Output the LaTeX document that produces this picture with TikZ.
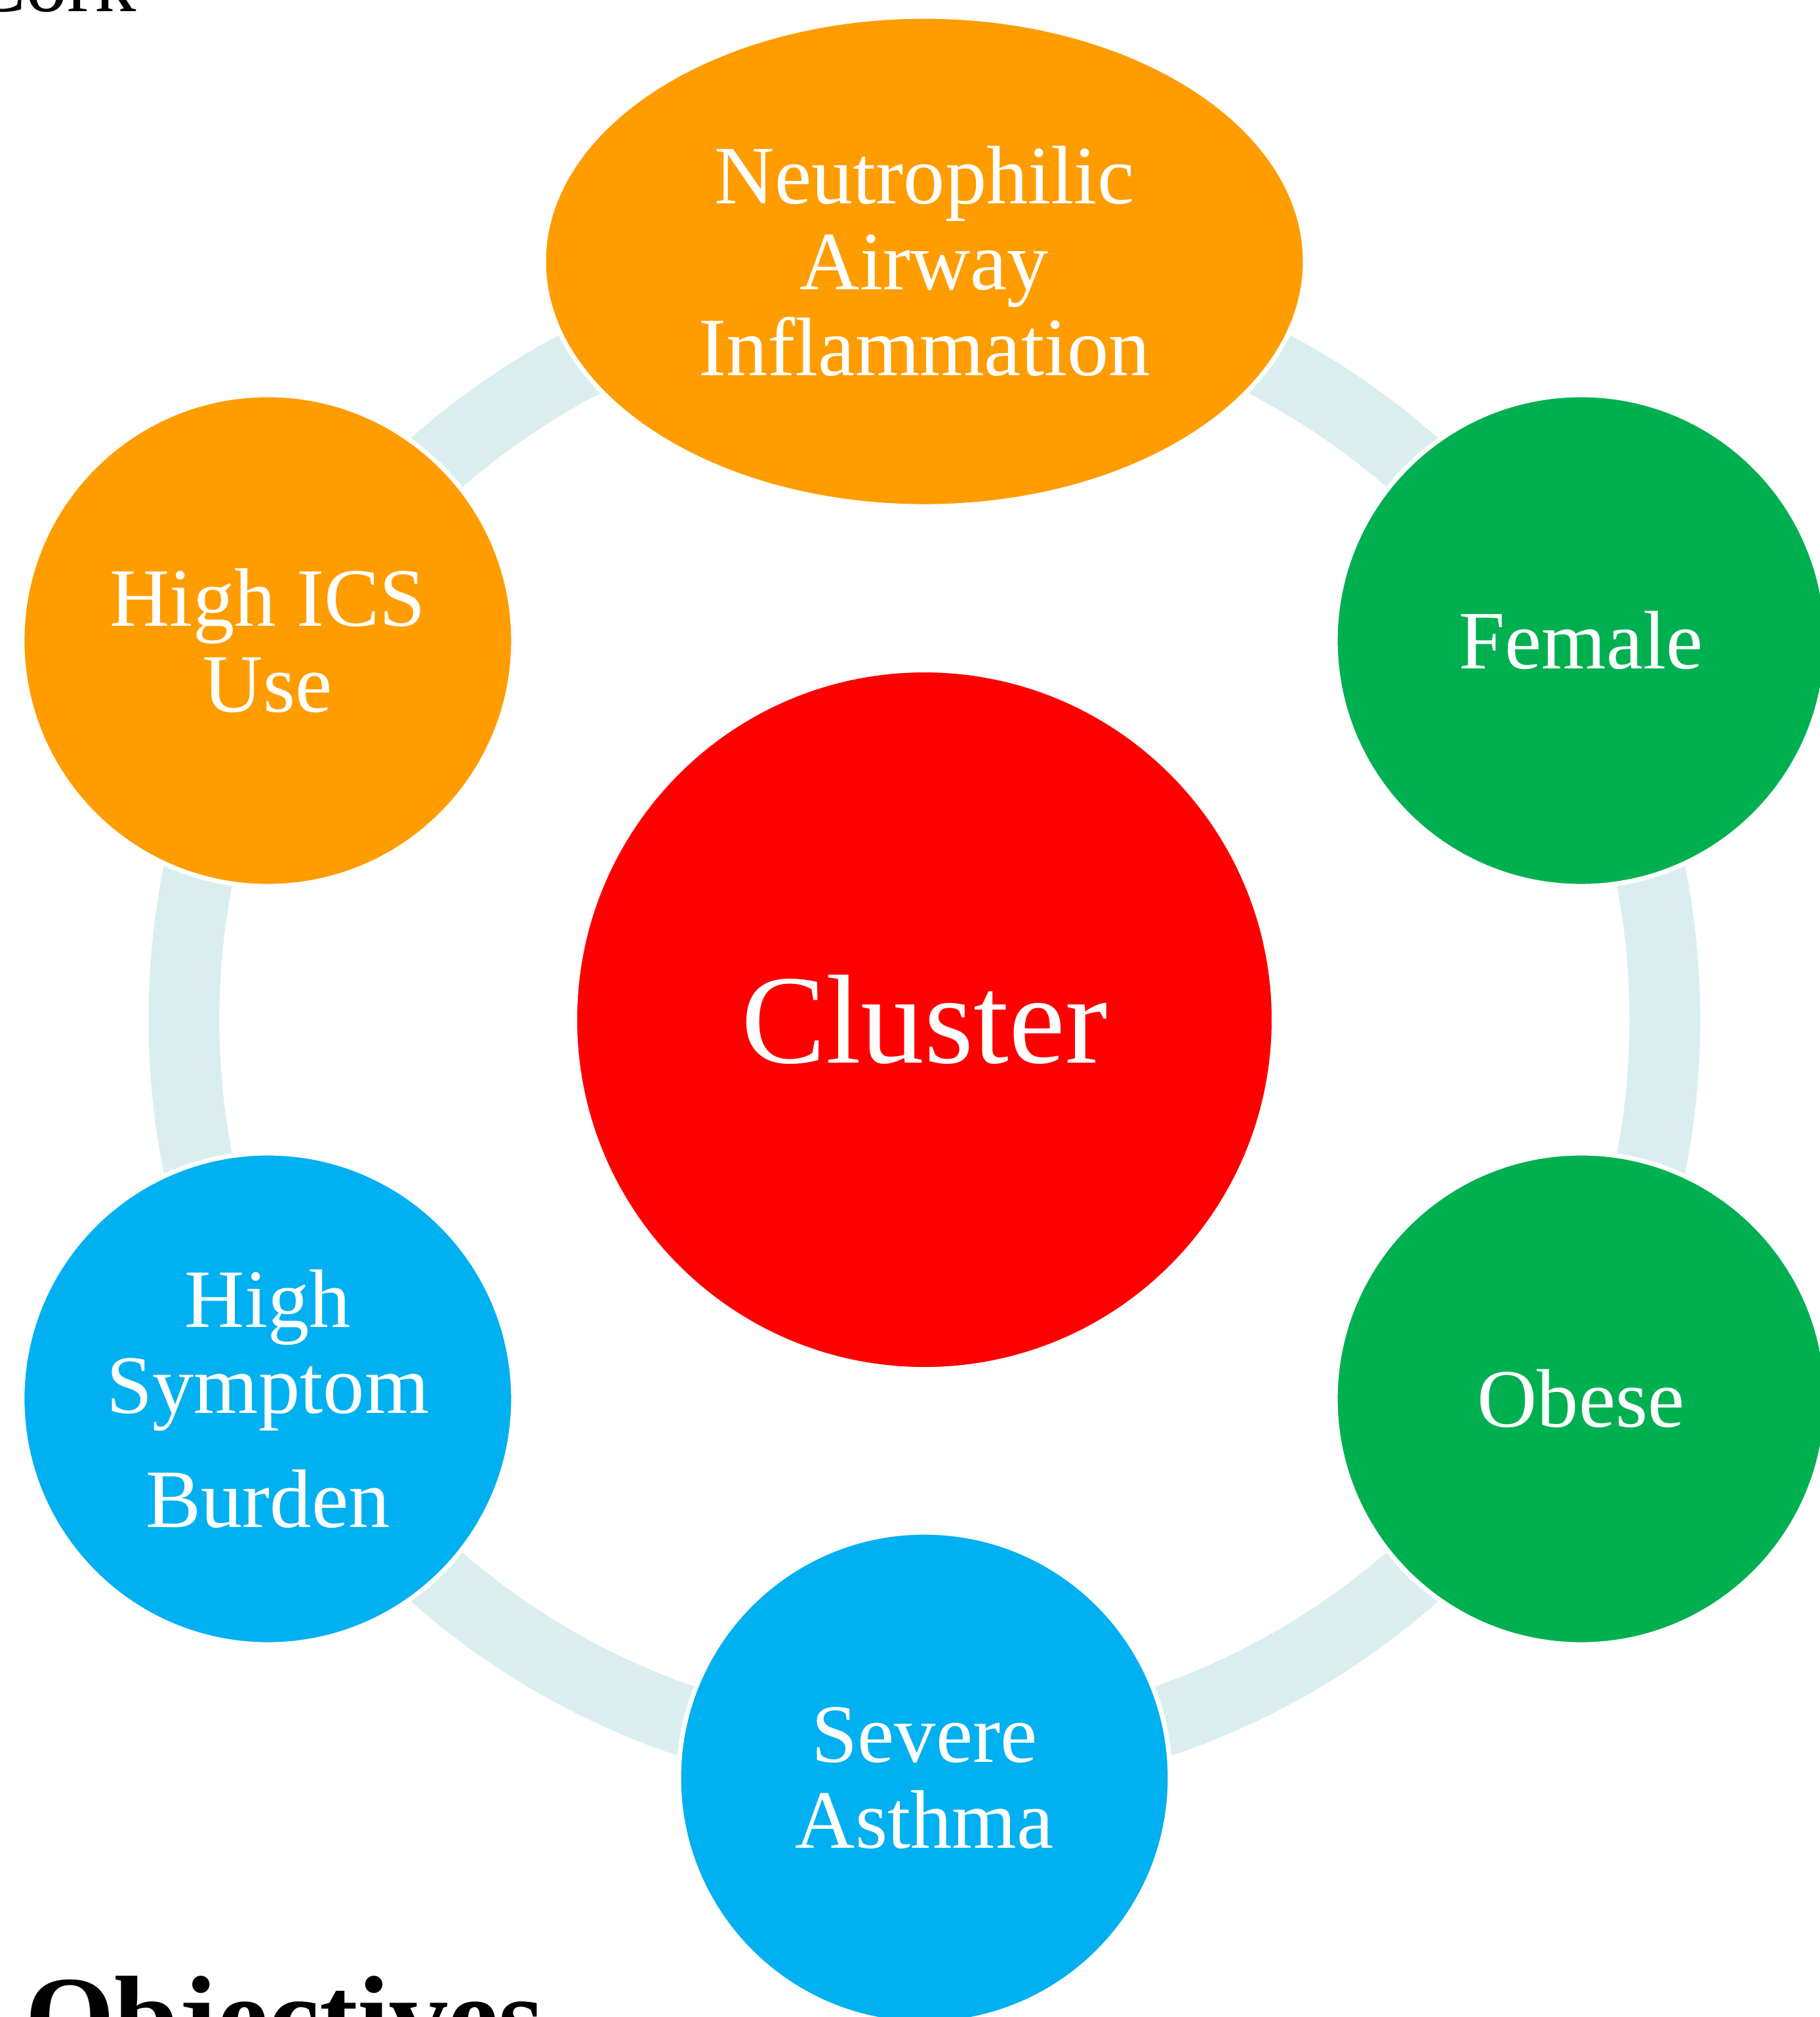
\documentclass[tikz,border=0pt]{standalone}
\usepackage{fontspec}
\setmainfont{Liberation Serif}
\usepackage{xcolor}
\definecolor{cHub}{HTML}{FF0000}
\definecolor{cOrange}{HTML}{FF9C00}
\definecolor{cGreen}{HTML}{00B050}
\definecolor{cBlue}{HTML}{00B0F0}
\definecolor{cRing}{HTML}{DAEEF0}
\usepackage{tikz}
\usetikzlibrary{shapes.geometric}
\tikzset{
  node-hub/.style={circle,fill=cHub,draw=white,line width=2pt,
    minimum size=10.66cm,inner sep=0pt,text=white,align=center,
    font=\fontsize{55}{60}\selectfont},
  node-trait/.style={circle,draw=white,line width=2pt,
    minimum size=7.49cm,inner sep=0pt,text=white,align=center,
    font=\fontsize{36}{37.3}\selectfont},
  node-oval/.style={ellipse,draw=white,line width=2pt,
    minimum width=11.61cm,minimum height=7.47cm,inner sep=0pt,
    text=white,align=center,font=\fontsize{36}{37.3}\selectfont},
  node-orange/.style={fill=cOrange},
  node-green/.style={fill=cGreen},
  node-blue/.style={fill=cBlue},
  ring/.style={draw=cRing,line width=1.08cm},
}
\begin{document}
\begin{tikzpicture}
  \useasboundingbox (-14.095,-15.204) rectangle (13.645,15.546);
  \coordinate (centre) at (0,0);
  % the band behind the traits
  \draw[ring] (centre) circle[radius=11.29];
  \node[node-hub] (hub) at (centre) {Cluster};
  \node[node-oval,node-orange] (neutro) at (90:11.56) {Neutrophilic\\Airway\\Inflammation};
  \node[node-trait,node-green] (female) at (30:11.56) {Female};
  \node[node-trait,node-green] (obese) at (-30:11.56) {Obese};
  \node[node-trait,node-blue] (severe) at (-90:11.56) {Severe\\Asthma};
  \node[node-trait,node-blue] (symptom) at (210:11.56) {High\\Symptom\\[0.43cm]Burden};
  \node[node-trait,node-orange] (ics) at (150:11.56) {High ICS\\Use};
  % cut-off page texts
  \node[anchor=base west,inner sep=0pt,font=\fontsize{36}{40}\selectfont] (cork) at (-14.55,15.37) {Cork};
  \node[anchor=base west,inner sep=0pt,font=\fontsize{50}{55}\selectfont\bfseries] (objectives) at (-13.72,-15.80) {Objectives};
\end{tikzpicture}
\end{document}
